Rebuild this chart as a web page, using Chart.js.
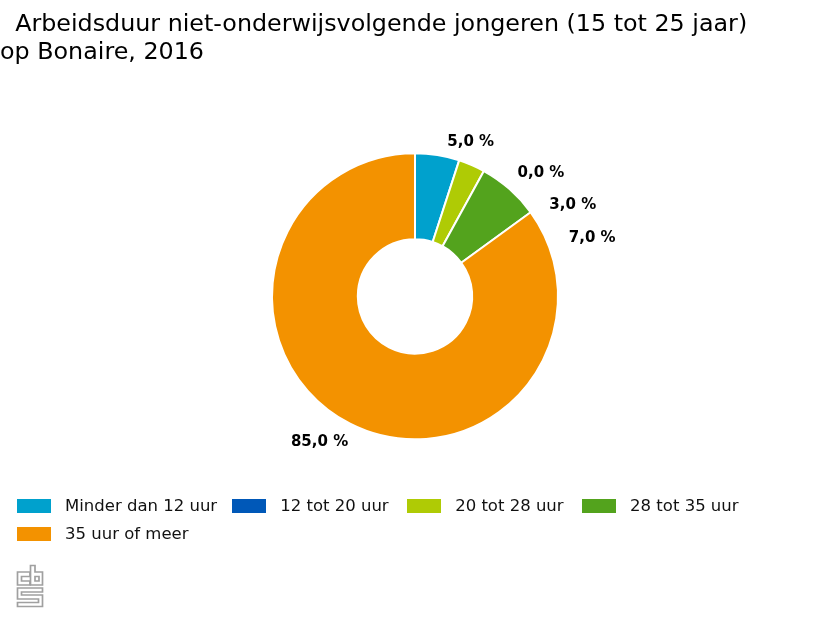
<!DOCTYPE html>
<html>
<head>
<meta charset="utf-8">
<script src="https://cdn.jsdelivr.net/npm/chart.js@4"></script>
<style>
    html, body { margin: 0; background: #fff; }
    #wrap { position: relative; width: 830px; height: 623px; overflow: hidden; font-family: "DejaVu Sans", sans-serif; }
    #chart { position: absolute; left: 0; top: 0; }
    #legend { position: absolute; left: 17px; top: 492px; width: 790px; display: flex; flex-wrap: wrap; color: #111; font-size: 16.5px; line-height: 28px; }
    .item { display: flex; align-items: center; margin-right: 18.5px; white-space: nowrap; }
    .item:first-child { margin-right: 15px; }
    .box { width: 34px; height: 14px; margin-right: 14px; }
    #logo { position: absolute; left: 16px; top: 564px; }
</style>
</head>
<body>
<div id="wrap">
    <canvas id="chart" width="830" height="623"></canvas>
    <div id="legend"></div>
    <svg id="logo" width="28" height="44" viewBox="0 0 28 44" fill="none" stroke="#a0a0a0" stroke-width="1.7">
        <path d="M14 8H1.5V21H14V17H5.5V12.5H14Z"/>
        <path d="M14.5 1.5H19V8H26.5V21H14.5Z"/>
        <path d="M19 12.5H23V17H19Z"/>
        <path d="M1.5 24H26.5V28H5.5V31H26.5V42.5H1.5V38.5H22.5V35H1.5Z"/>
    </svg>
</div>
<script>
const categories = ['Minder dan 12 uur', '12 tot 20 uur', '20 tot 28 uur', '28 tot 35 uur', '35 uur of meer'];
const values = [5, 0, 3, 7, 85];
const valueLabels = ['5,0 %', '0,0 %', '3,0 %', '7,0 %', '85,0 %'];
const colors = ['#00a1cd', '#0058b8', '#afcb05', '#53a31d', '#f39200'];

// verschuiving van elk label t.o.v. het midden van zijn segment
const labelOffsets = [[40, -55], [95, -28], [118, 1], [111, 17], [-50, 57]];

const sliceLabels = {
    id: 'sliceLabels',
    afterDatasetsDraw(chart) {
        const ctx = chart.ctx;
        ctx.save();
        ctx.font = 'bold 15px "DejaVu Sans"';
        ctx.fillStyle = '#000';
        ctx.textAlign = 'center';
        ctx.textBaseline = 'middle';
        chart.getDatasetMeta(0).data.forEach((arc, i) => {
            const p = arc.getCenterPoint();
            ctx.fillText(valueLabels[i], p.x + labelOffsets[i][0], p.y + labelOffsets[i][1]);
        });
        ctx.restore();
    }
};

new Chart(document.getElementById('chart').getContext('2d'), {
    type: 'doughnut',
    data: {
        labels: categories,
        datasets: [{
            data: values,
            backgroundColor: colors,
            borderColor: '#fff',
            borderWidth: 2,
            borderAlign: 'center'
        }]
    },
    options: {
        responsive: false,
        animation: false,
        cutout: '40%',
        radius: 143,
        layout: { padding: { bottom: 97 } },
        plugins: {
            legend: { display: false },
            tooltip: { enabled: false },
            title: {
                display: true,
                align: 'start',
                color: '#000',
                font: { family: '"DejaVu Sans"', size: 23.8, weight: 'normal', lineHeight: 1.17 },
                padding: { top: 11, bottom: 0 },
                text: ['  Arbeidsduur niet-onderwijsvolgende jongeren (15 tot 25 jaar)', 'op Bonaire, 2016']
            }
        }
    },
    plugins: [sliceLabels]
});

// legenda
const legendEl = document.getElementById('legend');
categories.forEach((name, i) => {
    const item = document.createElement('div');
    item.className = 'item';
    const box = document.createElement('span');
    box.className = 'box';
    box.style.background = colors[i];
    item.appendChild(box);
    item.appendChild(document.createTextNode(name));
    legendEl.appendChild(item);
});
</script>
</body>
</html>
